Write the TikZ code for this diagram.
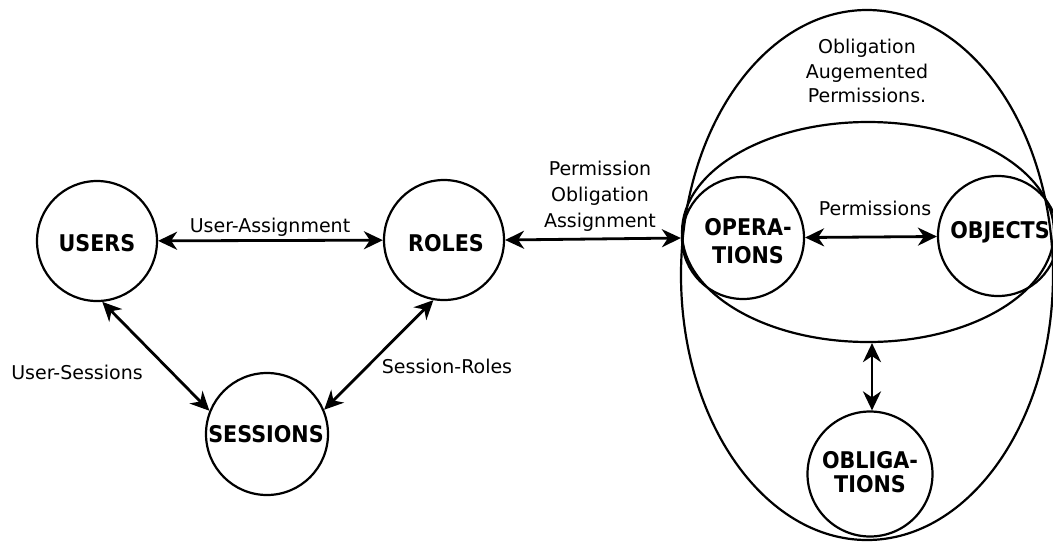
\documentclass[tikz,border=0pt]{standalone}
\usepackage{fontspec}
\setmainfont{DejaVu Sans}
\newfontfamily\entityfont{DejaVu Sans Condensed Bold}
\usetikzlibrary{arrows.meta,shapes.geometric}

\begin{document}
\begin{tikzpicture}[x=1pt,y=-1pt,
  circ/.style={circle, draw, line width=2.2pt, minimum size=120pt, inner sep=0pt},
  oval/.style={ellipse, draw, line width=2.2pt, inner sep=0pt},
  ent/.style={font=\entityfont\fontsize{23}{28}\selectfont, align=center, inner sep=0pt},
  lbl/.style={font=\fontsize{19}{26}\selectfont, align=center, inner sep=0pt},
  link/.style={line width=2.8pt, {Stealth[length=19pt,width=18pt,inset=6pt]}-{Stealth[length=19pt,width=18pt,inset=6pt]}}]

  \useasboundingbox (0,0) rectangle (1053,542);

  % permission space: outer and inner ovals
  \node[oval, minimum width=372pt, minimum height=530pt] (outer) at (867,275) {};
  \node[oval, minimum width=372pt, minimum height=220pt] (inner) at (868,232) {};

  % entity circles
  \node[circ] (users) at (97,241) {};
  \node[circ] (roles) at (444,240) {};
  \node[circ, minimum size=122pt] (sessions) at (267,434) {};
  \node[circ, minimum size=122pt] (ops) at (743,238) {};
  \node[circ] (objs) at (998,236) {};
  \node[circ, minimum size=125pt] (obl) at (870,474) {};

  % entity names
  \node[ent] (usersT) at (97,243) {USERS};
  \node[ent] (rolesT) at (446,243) {ROLES};
  \node[ent] (sessionsT) at (266,434) {SESSIONS};
  \node[ent] (opsT) at (748,241) {OPERA-\\TIONS};
  \node[ent] (objsT) at (1000,232) {OBJECTS};
  \node[ent, font=\entityfont\fontsize{23}{24}\selectfont] (oblT) at (870,472) {OBLIGA-\\TIONS};

  % relations
  \draw[link] (users) -- (roles);
  \draw[link] (users.-85) -- (sessions.158);
  \draw[link] (roles.-100) -- (sessions.23);
  \draw[link] (roles.east) -- (ops.west);
  \draw[link] (ops) -- (objs);
  \draw[link] (inner.south) ++(4,0) coordinate (innerfoot) (innerfoot) -- (obl.north -| innerfoot);

  % relation names
  \node[lbl, anchor=base] (uaL) at (270,232) {User-Assignment};
  \node[lbl, anchor=base] (usL) at (77,379) {User-Sessions};
  \node[lbl, anchor=base] (srL) at (447,373) {Session-Roles};
  \node[lbl] (poaL) at (600,196) {Permission\\Obligation\\Assignment};
  \node[lbl, anchor=base] (permL) at (875,215) {Permissions};
  \node[lbl, font=\fontsize{19}{24.5}\selectfont] (oapL) at (867,71) {Obligation\\Augemented\\Permissions.};
\end{tikzpicture}
\end{document}
